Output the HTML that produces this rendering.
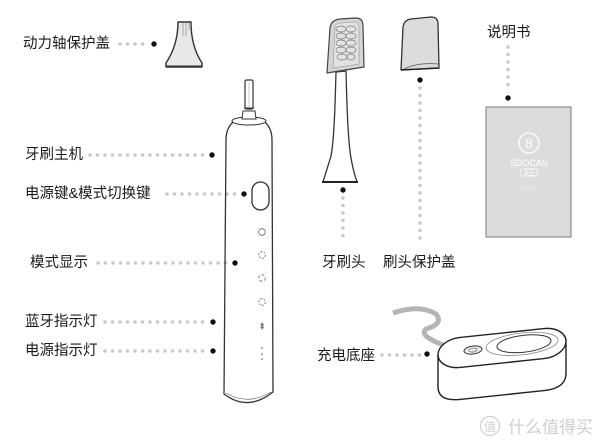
<!DOCTYPE html>
<html><head><meta charset="utf-8"><style>
html,body{margin:0;padding:0;background:#fff;}
svg{display:block;}
text{font-family:"Liberation Sans","Noto Sans CJK SC",sans-serif;}
.lbl{font-size:14.5px;fill:#1a1a1a;dominant-baseline:central;}
.dot{stroke:#c9c9c9;stroke-width:3.6;stroke-linecap:round;stroke-dasharray:0 7.5;fill:none;}
.ln{stroke:#333;stroke-width:1.3;fill:none;stroke-linejoin:round;}
</style></head><body>
<svg width="600" height="444" viewBox="0 0 600 444" xmlns="http://www.w3.org/2000/svg">
<!-- labels -->
<text class="lbl" x="23" y="44">动力轴保护盖</text>
<text class="lbl" x="25" y="155">牙刷主机</text>
<text class="lbl" x="25" y="194">电源键&amp;模式切换键</text>
<text class="lbl" x="30" y="263">模式显示</text>
<text class="lbl" x="25" y="322">蓝牙指示灯</text>
<text class="lbl" x="25" y="351">电源指示灯</text>
<text class="lbl" x="322" y="263">牙刷头</text>
<text class="lbl" x="383" y="263">刷头保护盖</text>
<text class="lbl" x="487" y="33">说明书</text>
<text class="lbl" x="317" y="356">充电底座</text>

<!-- dotted leaders -->
<line class="dot" x1="120" y1="44" x2="149" y2="44"/>
<circle cx="154" cy="44" r="2.7" fill="#111"/>
<line class="dot" x1="90" y1="155" x2="206" y2="155"/>
<circle cx="212" cy="155" r="2.7" fill="#111"/>
<line class="dot" x1="167" y1="194" x2="239" y2="194"/>
<circle cx="244" cy="194" r="2.7" fill="#111"/>
<line class="dot" x1="98" y1="263" x2="231" y2="263"/>
<circle cx="235" cy="263" r="2.7" fill="#111"/>
<line class="dot" x1="105" y1="322" x2="208" y2="322"/>
<circle cx="213" cy="322" r="2.7" fill="#111"/>
<line class="dot" x1="105" y1="351" x2="208" y2="351"/>
<circle cx="213" cy="351" r="2.7" fill="#111"/>
<line class="dot" x1="382" y1="355" x2="420" y2="355"/>
<circle cx="427" cy="354" r="2.7" fill="#111"/>
<line class="dot" x1="343" y1="198" x2="343" y2="243"/>
<circle cx="343" cy="190" r="2.7" fill="#111"/>
<line class="dot" x1="420" y1="88" x2="420" y2="239"/>
<circle cx="420" cy="80" r="2.7" fill="#111"/>
<line class="dot" x1="508" y1="47" x2="508" y2="92"/>
<circle cx="508" cy="98" r="2.7" fill="#111"/>

<!-- shaft cover -->
<path d="M178,22 L191,22 C191,40 196,54 202,63 L202,67 L166,67 L166,63 C172,54 178,40 178,22 Z" fill="#e8e8e8" stroke="#333" stroke-width="1.4" stroke-linejoin="round"/>
<line x1="166" y1="66.5" x2="202" y2="66.5" stroke="#333" stroke-width="2"/>
<path d="M183,23 V36 M186,23 V36 M189,23 V30" stroke="#999" stroke-width="0.8" fill="none"/>

<!-- toothbrush body -->
<rect x="245" y="80" width="8" height="29" rx="1.5" fill="#fff" stroke="#333" stroke-width="1.2"/>
<line x1="249" y1="82" x2="249" y2="107" stroke="#aaa" stroke-width="0.6"/>
<path d="M224,394 L226,140 C226,125 235,117 249,117 C263,117 272,125 272,140 L273,392 Q248,412 224,394 Z" fill="#fff" class="ln"/>
<path d="M226,393 Q248,406 271,392" stroke="#666" stroke-width="0.7" fill="none"/>
<ellipse cx="249" cy="121" rx="17" ry="4" fill="#fff" stroke="#333" stroke-width="1"/>
<path d="M242,119 L243,111 L255,111 L256,119 Z" fill="#fff" stroke="#333" stroke-width="1"/>
<line x1="244" y1="108" x2="254" y2="108" stroke="#333" stroke-width="1"/>
<!-- button -->
<rect x="252" y="182" width="17" height="28" rx="8.5" fill="#fff" stroke="#333" stroke-width="1.3"/>
<!-- mode icons -->
<circle cx="262" cy="232" r="3.3" fill="none" stroke="#666" stroke-width="0.8"/>
<circle cx="262" cy="255" r="3.3" fill="none" stroke="#666" stroke-width="0.8" stroke-dasharray="2 1.4"/>
<circle cx="262" cy="278" r="3.3" fill="none" stroke="#666" stroke-width="0.8" stroke-dasharray="3 2"/>
<circle cx="262" cy="302" r="3.3" fill="none" stroke="#666" stroke-width="0.8" stroke-dasharray="2 1.4"/>
<path d="M260.5,324 L263.5,327.5 L262,329 V323 L263.5,324.5 L260.5,328" stroke="#555" stroke-width="0.7" fill="none"/>
<circle cx="262" cy="348" r="0.8" fill="#555"/>
<circle cx="262" cy="354" r="0.8" fill="#555"/>
<circle cx="262" cy="359" r="0.8" fill="#555"/>

<!-- brush head -->
<path d="M336,72 L346,71 C347,110 348,140 351,158 C353,170 355,176 357,182 L323,182 C325,175 328,166 331,156 C334,140 335,110 336,72 Z" fill="#fff" class="ln"/>
<line x1="322" y1="182" x2="358" y2="182" stroke="#222" stroke-width="2"/>
<path d="M327,73 L330,28 Q331,20 340,19 L356,18 Q363,18 363,26 L364,67 Z" fill="#d4d4d4" stroke="#444" stroke-width="1.2" stroke-linejoin="round"/>
<path d="M333,68 L335,27 Q336,23 341,23 L355,22 Q359,22 359,27 L359,64 Z" fill="#e2e2e2" stroke="#999" stroke-width="0.6"/>
<g fill="none" stroke="#777" stroke-width="0.7">
<ellipse cx="341" cy="29" rx="5" ry="3"/><ellipse cx="351" cy="29" rx="5" ry="3"/>
<ellipse cx="341" cy="36" rx="5" ry="3"/><ellipse cx="351" cy="36" rx="5" ry="3"/>
<ellipse cx="341" cy="43" rx="5" ry="3"/><ellipse cx="351" cy="43" rx="5" ry="3"/>
<ellipse cx="341" cy="50" rx="5" ry="3"/><ellipse cx="351" cy="50" rx="5" ry="3"/>
<ellipse cx="342" cy="57" rx="5" ry="3"/><ellipse cx="351" cy="57" rx="4" ry="3"/>
</g>

<!-- brush cap -->
<path d="M403,27 Q404,20 411,19 L431,17 Q438,17 438,24 L439,68 L401,70 Z" fill="#dcdcdc" stroke="#333" stroke-width="1.3" stroke-linejoin="round"/>
<path d="M402,70 Q416,62 439,64" stroke="#555" stroke-width="0.8" fill="none"/>
<line x1="401" y1="70" x2="439" y2="68" stroke="#222" stroke-width="1.6"/>

<!-- manual -->
<rect x="486" y="107" width="85" height="130" fill="#dcdcdc" stroke="#7a7a7a" stroke-width="1"/>
<circle cx="529" cy="143" r="10" fill="none" stroke="#fff" stroke-width="1.3"/>
<text x="529" y="148" font-size="14" fill="#fff" text-anchor="middle">8</text>
<text x="529" y="166" font-size="9" fill="#fff" text-anchor="middle">SDOCAS</text>
<rect x="520" y="169" width="18" height="7" rx="3" fill="none" stroke="#fff" stroke-width="0.7"/>
<text x="529" y="175" font-size="5" fill="#fff" text-anchor="middle">素士</text>
<text x="529" y="190" font-size="4" fill="#f2f2f2" text-anchor="middle">电动牙刷</text>

<!-- charging base -->
<path d="M393,313 Q420,304 436,314 Q444,324 426,329 Q418,336 446,346" stroke="#b5b5b5" stroke-width="5" fill="none" stroke-linecap="butt"/>
<g transform="translate(502,0) skewY(-6) translate(-502,0)">
<path d="M438,348 V380 Q438,395 460,395 H544 Q566,395 566,380 V348 Z" fill="#fff" stroke="#222" stroke-width="1.4" stroke-linejoin="round"/>
<rect x="438" y="333" width="128" height="30" rx="22" ry="15" fill="#fff" stroke="#222" stroke-width="1.4"/>
<ellipse cx="522" cy="346" rx="36" ry="11" fill="none" stroke="#888" stroke-width="0.8"/>
<ellipse cx="524" cy="346" rx="27" ry="8.5" fill="#fff" stroke="#333" stroke-width="1"/>
<ellipse cx="473" cy="347" rx="9" ry="4" fill="#e8e8e8" stroke="#333" stroke-width="1"/>
<ellipse cx="473" cy="347" rx="4" ry="2" fill="none" stroke="#666" stroke-width="0.6"/>
</g>

<!-- watermark -->
<circle cx="490" cy="426" r="9.5" fill="none" stroke="#cfcfcf" stroke-width="1.2"/>
<text x="490" y="431" font-size="12" fill="#cfcfcf" text-anchor="middle">值</text>
<text x="508" y="433" font-size="17" fill="#cfcfcf">什么值得买</text>
</svg>
</body></html>
